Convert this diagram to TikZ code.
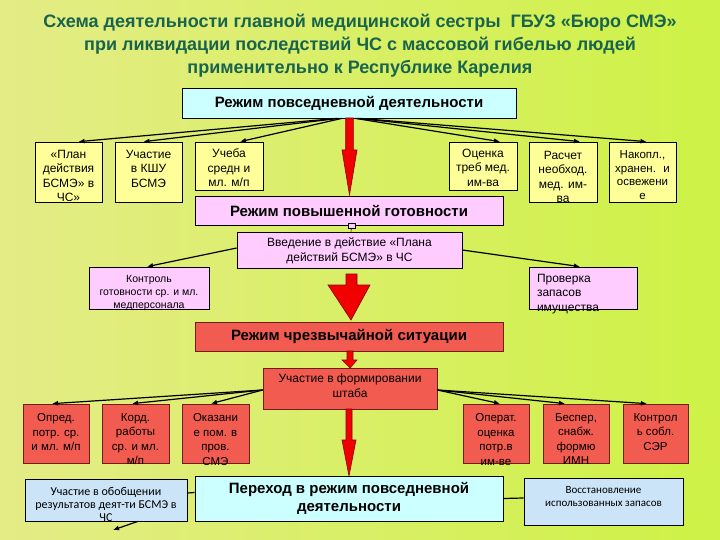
\documentclass[tikz,border=0pt]{standalone}
\usepackage{fontspec}
\setmainfont{Liberation Sans}
\newfontfamily\calfont{Carlito}
\usetikzlibrary{arrows.meta,calc}
\definecolor{bgl}{RGB}{228,236,134}
\definecolor{bgr}{RGB}{206,242,70}
\definecolor{ttl}{RGB}{24,100,78}
\definecolor{cyn}{RGB}{204,255,255}
\definecolor{ylw}{RGB}{255,255,153}
\definecolor{pnk}{RGB}{255,204,255}
\definecolor{rbx}{RGB}{242,92,80}
\definecolor{rbd}{RGB}{110,30,20}
\definecolor{lbl}{RGB}{204,228,247}
\definecolor{rarr}{RGB}{240,0,0}
\newcommand{\tbx}[4]{\parbox[c][#2][t]{#1}{\vspace*{#3}\centering #4\par}}
\newcommand{\lbx}[5]{\parbox[c][#2][t]{#1}{\vspace*{#3}\hspace*{#4}\parbox[t]{\dimexpr#1-#4\relax}{\raggedright #5}\par}}
\tikzset{
  box/.style={draw=black, line width=0.7pt, inner sep=0pt},
  sm/.style={font=\fontsize{12}{14.5}\selectfont},
  rsm/.style={font=\fontsize{11.5}{14.5}\selectfont},
  modebox/.style={box, align=center, font=\bfseries\fontsize{15}{18}\selectfont},
  conn/.style={line width=1.2pt, -{Latex[length=6pt,width=5pt]}},
  plain/.style={line width=1.2pt},
  redar/.style={fill=rarr, draw=red!55!black, line width=0.6pt},
  redbox/.style={box, draw=rbd, fill=rbx},
}
\begin{document}
\begin{tikzpicture}[x=1pt,y=-1pt]
\useasboundingbox (0,0) rectangle (720,540);
\shade[left color=bgl, right color=bgr] (0,0) rectangle (720,540);

% title
\node[align=center, text=ttl, font=\bfseries\fontsize{18}{23}\selectfont] (title) at (360,46)
 {Схема деятельности главной медицинской сестры \ ГБУЗ «Бюро СМЭ»\\
  при ликвидации последствий ЧС с массовой гибелью людей\\
  применительно к Республике Карелия};

% mode 1
\node[modebox, fill=cyn, minimum width=334pt, minimum height=30pt] (m1) at (349,103) {Режим повседневной деятельности};

% yellow row
\node[box, fill=ylw, sm] (y1) at (68.5,172) {\tbx{67pt}{60pt}{8pt}{«План\\действия\\БСМЭ» в\\ЧС»}};
\node[box, fill=ylw, sm] (y2) at (148.5,172) {\tbx{67pt}{60pt}{8pt}{Участие\\в КШУ\\БСМЭ}};
\node[box, fill=ylw, sm] (y3) at (229,166) {\tbx{68pt}{48pt}{7pt}{Учеба\\средн и\\мл. м/п}};
\node[box, fill=ylw, sm] (y4) at (483,166) {\tbx{68pt}{48pt}{7pt}{Оценка\\треб мед.\\им-ва}};
\node[box, fill=ylw, sm] (y5) at (563,172) {\tbx{68pt}{60pt}{9pt}{Расчет\\необход.\\мед. им-\\ва}};
\node[box, fill=ylw, font=\fontsize{11.5}{13.5}\selectfont] (y6) at (642.5,172) {\tbx{67pt}{60pt}{9pt}{Накопл.,\\хранен. \ и\\освежени\\е}};

\draw[conn] ([xshift=-12pt]m1.south) -- ([xshift=10pt]y1.north);
\draw[conn] ([xshift=-10pt]m1.south) -- ([xshift=-5pt]y2.north);
\draw[conn] ([xshift=-7pt]m1.south) -- ([xshift=11pt]y3.north);
\draw[conn] ([xshift=6pt]m1.south) -- ([xshift=17pt]y4.north);
\draw[conn] ([xshift=8pt]m1.south) -- ([xshift=17pt]y5.north);
\draw[conn] ([xshift=10pt]m1.south) -- ([xshift=4pt]y6.north);

% mode 2
\node[modebox, fill=pnk, minimum width=308pt, minimum height=29pt] (m2) at (349,210.5) {Режим повышенной готовности};
\draw[redar] (345.7,118) -- (353.3,118) -- (353.3,150) -- (357,150) -- (349.5,195) -- (342,150) -- (345.7,150) -- cycle;

% intro
\node[box, fill=pnk, sm] (intro) at (349.5,250) {\tbx{225pt}{36pt}{6pt}{Введение в действие «Плана\\действий БСМЭ» в ЧС}};
\node[draw=black, line width=0.5pt, fill=pnk, inner sep=0pt, minimum width=7pt, minimum height=5pt] (mk) at (351.5,226) {};
\draw[line width=0.6pt] (mk) -- (intro);

\node[box, fill=pnk, font=\fontsize{10.5}{13}\selectfont] (ctrl) at (149,288) {\tbx{120pt}{42pt}{8pt}{Контроль\\готовности ср. и мл.\\медперсонала}};
\node[box, fill=pnk, sm] (check) at (583,288) {\lbx{108pt}{42pt}{7pt}{8pt}{Проверка\\запасов\\имущества}};
\draw[conn] ([yshift=2pt]intro.west) -- ([xshift=-2pt]ctrl.north);
\draw[conn] (intro.east) -- ([xshift=-3pt]check.north);

% big red arrow
\draw[redar] (346,274) -- (357,274) -- (357,285) -- (370,285) -- (351,320) -- (328,285) -- (346,285) -- cycle;

% mode 3
\node[modebox, redbox, minimum width=308pt, minimum height=29pt] (m3) at (349,336.5) {Режим чрезвычайной ситуации};
\draw[redar] (347,351) -- (353,351) -- (353,360) -- (357,360) -- (350,368) -- (342,360) -- (347,360) -- cycle;

% staff
\node[redbox, sm] (staff) at (350,388.5) {\tbx{174pt}{41pt}{6pt}{Участие в формировании\\штаба}};

% red row
\node[redbox, rsm] (r1) at (56,433.5) {\tbx{66pt}{59pt}{9.5pt}{Опред.\\потр. ср.\\и мл. м/п}};
\node[redbox, rsm] (r2) at (135.5,433.5) {\tbx{67pt}{59pt}{9.5pt}{Корд.\\работы\\ср. и мл.\\м/п}};
\node[redbox, rsm] (r3) at (215.5,433.5) {\tbx{67pt}{59pt}{9.5pt}{Оказани\\е пом. в\\пров.\\СМЭ}};
\node[redbox, rsm] (r4) at (496,433.5) {\tbx{66pt}{59pt}{9.5pt}{Операт.\\оценка\\потр.в\\им-ве}};
\node[redbox, rsm] (r5) at (576,433.5) {\tbx{66pt}{59pt}{9.5pt}{Беспер,\\снабж.\\формю\\ИМН}};
\node[redbox, rsm] (r6) at (655.5,433.5) {\tbx{65pt}{59pt}{9.5pt}{Контрол\\ь собл.\\СЭР}};

\draw[conn] ([yshift=-1.5pt]staff.west) -- ([xshift=-4pt]r1.north);
\draw[conn] ([yshift=-1.5pt]staff.west) -- ([xshift=-3.5pt]r2.north);
\draw[conn] ([yshift=-1.5pt]staff.west) -- ([xshift=-4.5pt]r3.north);
\draw[conn] ([yshift=-1.5pt]staff.east) -- ([xshift=4pt]r4.north);
\draw[conn] ([yshift=-1.5pt]staff.east) -- ([xshift=-11pt]r5.north);
\draw[conn] ([yshift=-1.5pt]staff.east) -- ([xshift=-8.5pt]r6.north);

\draw[redar] (346,409) -- (352,409) -- (352,440) -- (356,440) -- (349,476) -- (342,440) -- (346,440) -- cycle;

% back to everyday
\node[modebox, fill=cyn, minimum width=308pt, minimum height=45pt] (back) at (349,498.5) {Переход в режим повседневной\\деятельности};

\node[box, fill=lbl, font=\calfont\fontsize{12}{13}\selectfont] (sum) at (106,500) {\tbx{162pt}{42pt}{8pt}{Участие в обобщении\\результатов деят-ти БСМЭ в\\ЧС}};
\node[box, fill=lbl, font=\calfont\fontsize{11}{13}\selectfont] (rest) at (603.5,501.5) {\tbx{159pt}{47pt}{8pt}{Восстановление\\использованных запасов}};

\draw[plain] ([yshift=6pt]back.west) -- ([yshift=7pt]sum.east);
\draw[plain] (back.east) -- ([yshift=3.5pt]rest.west);
\coordinate (stray) at (113,530);
\draw[conn] ([xshift=32pt]sum.south) -- (stray);
\end{tikzpicture}
\end{document}
